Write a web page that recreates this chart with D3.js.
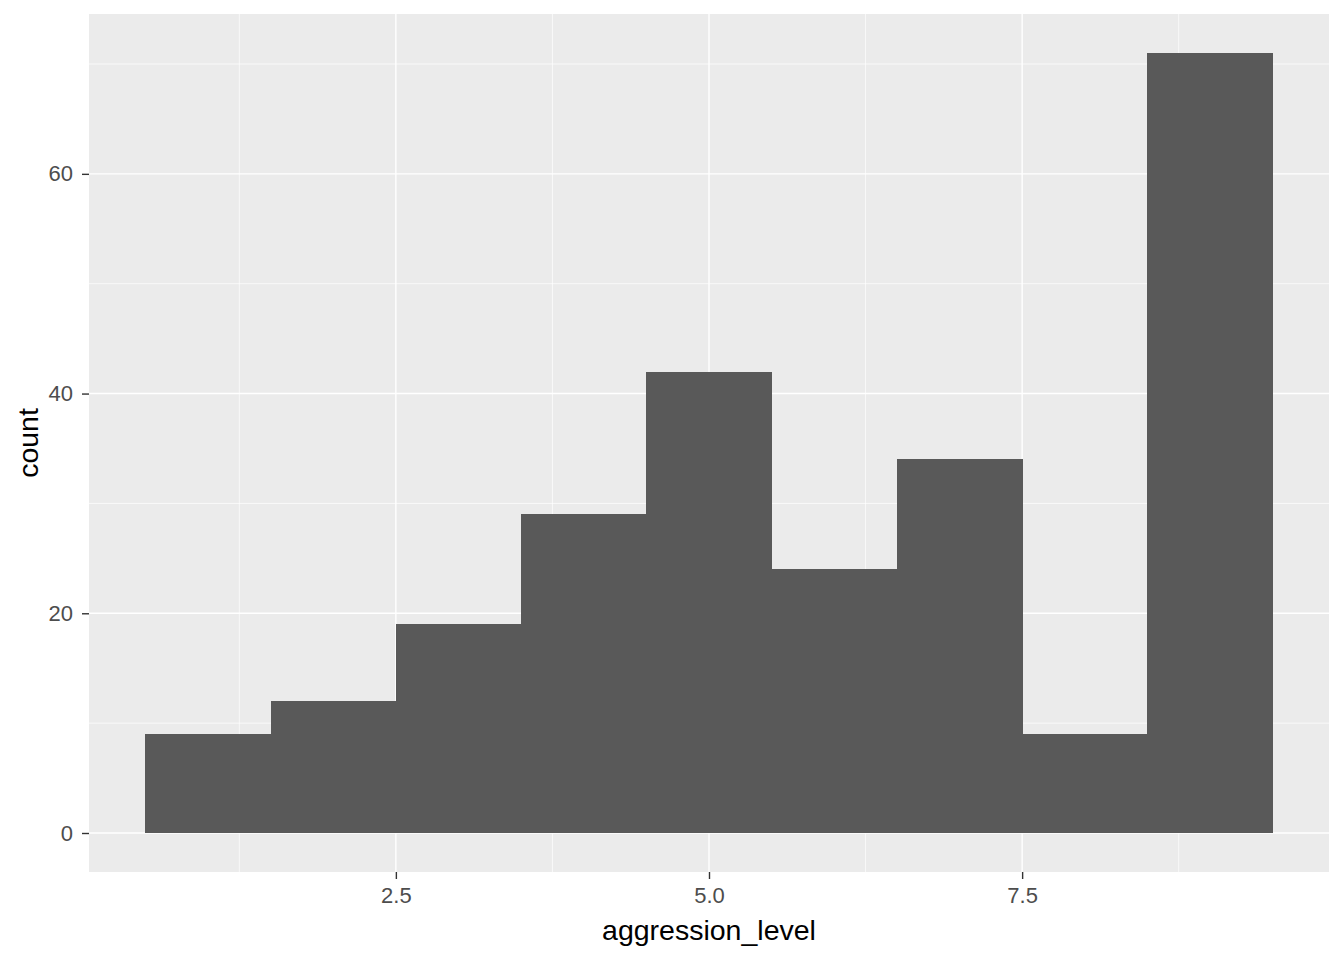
<!DOCTYPE html>
<html>
<head>
<meta charset="utf-8">
<script src="https://cdn.jsdelivr.net/npm/d3@7"></script>
<style>
  html, body { margin: 0; padding: 0; background: #fff; }
  svg { display: block; font-family: "Liberation Sans", Arial, sans-serif; }
</style>
</head>
<body>
<script>
// Data: histogram of aggression_level, binwidth 1, bins centered at 1..9
const binCenters = [1, 2, 3, 4, 5, 6, 7, 8, 9];
const counts = [9, 12, 19, 29, 42, 24, 34, 9, 71];
const binWidth = 1;
const xTicks = [2.5, 5.0, 7.5];
const xMinor = [1.25, 3.75, 6.25, 8.75];
const yTicks = [0, 20, 40, 60];
const yMinor = [10, 30, 50, 70];
const xLabel = "aggression_level";
const yLabel = "count";

const W = 1344, H = 960;
const panel = { left: 89, right: 1329, top: 14, bottom: 872 };

const svg = d3.select("body").append("svg").attr("width", W).attr("height", H);
svg.append("rect").attr("width", W).attr("height", H).attr("fill", "#fff");

const xmin = d3.min(binCenters) - binWidth / 2, xmax = d3.max(binCenters) + binWidth / 2;
const xpad = (xmax - xmin) * 0.05;
const x = d3.scaleLinear().domain([xmin - xpad, xmax + xpad]).range([panel.left, panel.right]);
const ymax = d3.max(counts);
const ypad = ymax * 0.05;
const y = d3.scaleLinear().domain([-ypad, ymax + ypad]).range([panel.bottom, panel.top]);

// panel background
svg.append("rect")
  .attr("x", panel.left).attr("y", panel.top)
  .attr("width", panel.right - panel.left).attr("height", panel.bottom - panel.top)
  .attr("fill", "#EBEBEB");

const grid = svg.append("g");
// minor grid
grid.selectAll(".xminor").data(xMinor).enter().append("line")
  .attr("x1", d => x(d)).attr("x2", d => x(d))
  .attr("y1", panel.top).attr("y2", panel.bottom)
  .attr("stroke", "#fff").attr("stroke-width", 0.7);
grid.selectAll(".yminor").data(yMinor).enter().append("line")
  .attr("y1", d => y(d)).attr("y2", d => y(d))
  .attr("x1", panel.left).attr("x2", panel.right)
  .attr("stroke", "#fff").attr("stroke-width", 0.7);
// major grid
grid.selectAll(".xmajor").data(xTicks).enter().append("line")
  .attr("x1", d => x(d)).attr("x2", d => x(d))
  .attr("y1", panel.top).attr("y2", panel.bottom)
  .attr("stroke", "#fff").attr("stroke-width", 1.4);
grid.selectAll(".ymajor").data(yTicks).enter().append("line")
  .attr("y1", d => y(d)).attr("y2", d => y(d))
  .attr("x1", panel.left).attr("x2", panel.right)
  .attr("stroke", "#fff").attr("stroke-width", 1.4);

// bars
svg.append("g").attr("shape-rendering", "crispEdges")
  .selectAll("rect").data(binCenters).enter().append("rect")
  .attr("x", d => x(d - binWidth / 2))
  .attr("width", d => x(d + binWidth / 2) - x(d - binWidth / 2) + 0.5)
  .attr("y", (d, i) => y(counts[i]))
  .attr("height", (d, i) => y(0) - y(counts[i]))
  .attr("fill", "#595959");

// axes
const xAxis = d3.axisBottom(x).tickValues(xTicks).tickFormat(d3.format(".1f")).tickSize(7).tickPadding(8);
const gx = svg.append("g").attr("transform", `translate(0,${panel.bottom})`).call(xAxis);
gx.select(".domain").remove();
gx.selectAll(".tick line").attr("stroke", "#333333").attr("stroke-width", 1.4);
gx.selectAll(".tick text").attr("fill", "#4D4D4D").attr("font-size", 22)
  .attr("font-family", "Liberation Sans, Arial, sans-serif");

const yAxis = d3.axisLeft(y).tickValues(yTicks).tickFormat(d3.format("d")).tickSize(7).tickPadding(9);
const gy = svg.append("g").attr("transform", `translate(${panel.left},0)`).call(yAxis);
gy.select(".domain").remove();
gy.selectAll(".tick line").attr("stroke", "#333333").attr("stroke-width", 1.4);
gy.selectAll(".tick text").attr("fill", "#4D4D4D").attr("font-size", 22)
  .attr("font-family", "Liberation Sans, Arial, sans-serif");

// axis titles
svg.append("text")
  .attr("x", (panel.left + panel.right) / 2).attr("y", 940)
  .attr("text-anchor", "middle").attr("font-size", 28.5).attr("fill", "#000")
  .text(xLabel);
svg.append("text")
  .attr("transform", `translate(38,${(panel.top + panel.bottom) / 2}) rotate(-90)`)
  .attr("text-anchor", "middle").attr("font-size", 28.5).attr("fill", "#000")
  .text(yLabel);
</script>
</body>
</html>
